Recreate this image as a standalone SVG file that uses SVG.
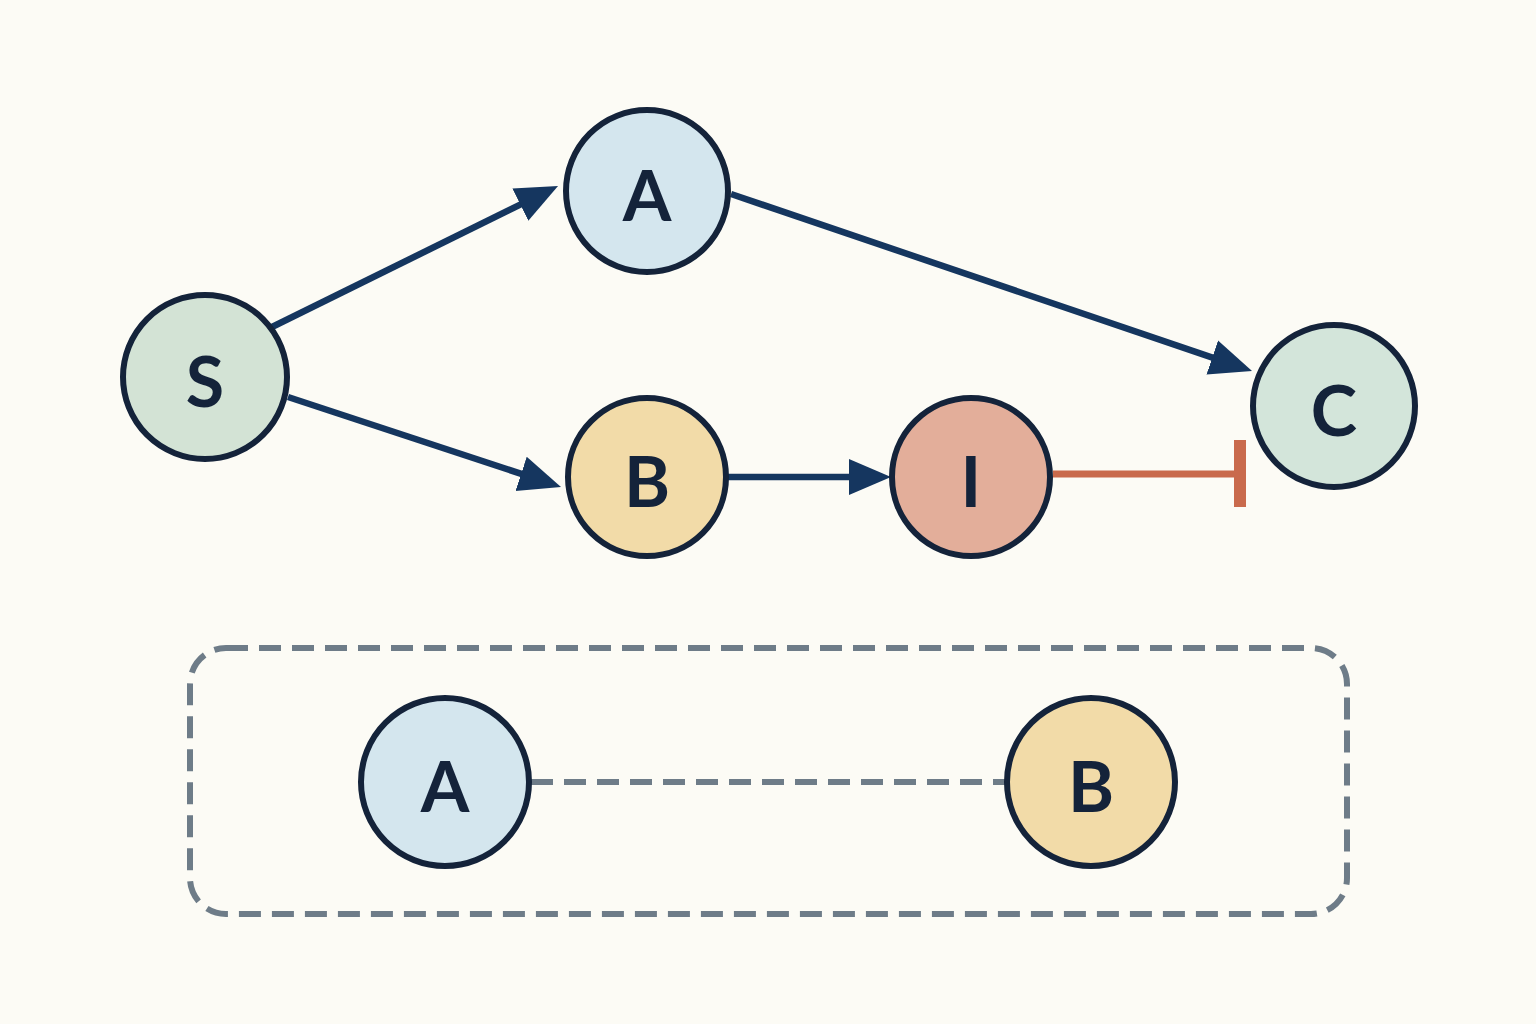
<svg xmlns="http://www.w3.org/2000/svg" width="1536" height="1024" viewBox="0 0 1536 1024">
<defs>
<style>
.node{stroke:#14233a;stroke-width:6}
.lbl{font-family:"Lato","Liberation Sans",sans-serif;font-weight:bold;font-size:70px;fill:#14233a;text-anchor:middle;dominant-baseline:central}
.edge{stroke:#15365f;stroke-width:6.5;fill:none}
.inh{stroke:#c96a4c;stroke-width:7;fill:none}
.dash{stroke:#6e7c88;stroke-width:6;fill:none;stroke-dasharray:22 11}
</style>
<marker id="arr" markerUnits="userSpaceOnUse" markerWidth="44" markerHeight="40" viewBox="0 0 44 40" refX="22" refY="20" orient="auto">
<path d="M0,2 L42,20 L0,38 Z" fill="#15365f"/>
</marker>
</defs>
<rect width="1536" height="1024" fill="#fcfbf5"/>
<g id="connectors">
<line class="edge" x1="272" y1="327" x2="540.1" y2="194.8" marker-end="url(#arr)"/>
<line class="edge" x1="288" y1="397" x2="542" y2="480.7" marker-end="url(#arr)"/>
<line class="edge" x1="731" y1="194" x2="1233.1" y2="364.6" marker-end="url(#arr)"/>
<line class="edge" x1="728" y1="477" x2="871" y2="477" marker-end="url(#arr)"/>
<line class="inh" x1="1053" y1="474" x2="1236" y2="474"/>
<line x1="1240" y1="440" x2="1240" y2="507" stroke="#c96a4c" stroke-width="12"/>
<line class="dash" x1="531" y1="782" x2="1005" y2="782" stroke-width="7" stroke-dasharray="19 10"/>
</g>
<g id="group-box">
<rect class="dash" x="190" y="648" width="1157" height="266" rx="36"/>
</g>
<g id="node-S"><circle class="node" cx="205" cy="377" r="82" fill="#d3e3d5"/><text class="lbl" x="205" y="380">S</text></g>
<g id="node-A"><circle class="node" cx="647" cy="191" r="81" fill="#d4e6ee"/><text class="lbl" x="647" y="194">A</text></g>
<g id="node-B"><circle class="node" cx="647" cy="477" r="79" fill="#f2dba8"/><text class="lbl" x="647" y="480">B</text></g>
<g id="node-I"><circle class="node" cx="971" cy="477" r="79" fill="#e3ae9a"/><text class="lbl" x="971" y="480">I</text></g>
<g id="node-C"><circle class="node" cx="1334" cy="406" r="81" fill="#d3e5da"/><text class="lbl" x="1334" y="409">C</text></g>
<g id="node-A2"><circle class="node" cx="445" cy="782" r="84" fill="#d4e6ee"/><text class="lbl" x="445" y="785">A</text></g>
<g id="node-B2"><circle class="node" cx="1091" cy="782" r="84" fill="#f2dba8"/><text class="lbl" x="1091" y="785">B</text></g>
</svg>
